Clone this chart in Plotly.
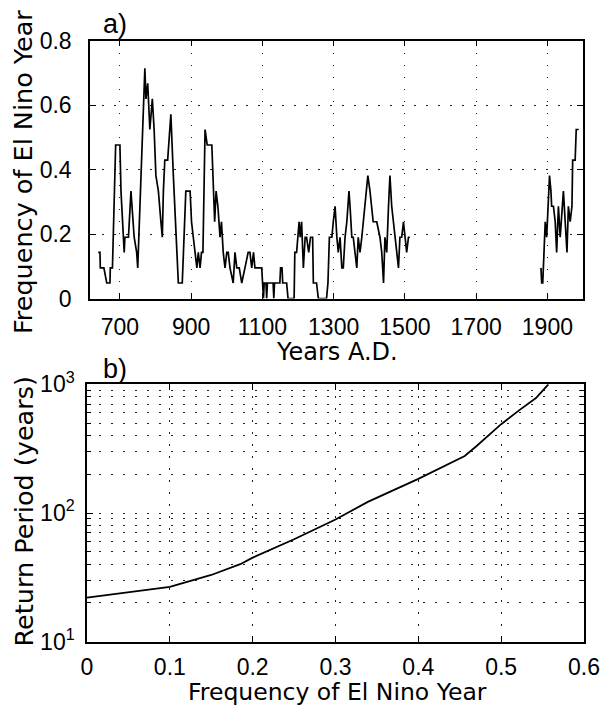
import plotly.graph_objects as go

# ---- Panel a) data: running frequency of El Nino years ----
years_a = [639, 644, 645, 651, 655, 663, 672, 673, 679, 688, 700, 703, 709, 712, 714, 724, 731, 736, 740, 747,
           750, 770, 773, 778, 782, 784, 791, 796, 801, 808, 815, 819, 822, 826, 834, 843, 850, 854, 859, 864,
           875, 881, 885, 897, 901, 906, 911, 916, 920, 925, 929, 933, 939, 945, 958, 962, 966, 970, 975, 981,
           985, 990, 995, 1000, 1004, 1009, 1018, 1023, 1028, 1035, 1042, 1051, 1060, 1065, 1070, 1075, 1079, 1098, 1101, 1103,
           1105, 1110, 1112, 1114, 1130, 1132, 1134, 1149, 1151, 1155, 1157, 1168, 1172, 1189, 1191, 1196, 1203, 1206, 1210, 1215,
           1220, 1224, 1230, 1235, 1241, 1243, 1252, 1257, 1280, 1284, 1288, 1295, 1299, 1304, 1309, 1313, 1318, 1323, 1327, 1332,
           1337, 1343, 1346, 1351, 1355, 1360, 1365, 1369, 1374, 1379, 1383, 1388, 1396, 1402, 1407, 1411, 1421, 1430, 1435, 1440,
           1444, 1449, 1454, 1458, 1463, 1468, 1472, 1477, 1482, 1486, 1491, 1496, 1500, 1505, 1510, 1514,
           None,
           1882, 1884, 1887, 1891, 1894, 1898, 1903, 1906, 1910, 1912, 1917, 1922, 1926, 1931, 1936, 1941, 1945, 1950, 1955, 1959,
           1964, 1969, 1971, 1978, 1981, 1985, 1988]
freq_a = [0.143, 0.143, 0.095, 0.095, 0.095, 0.048, 0.048, 0.095, 0.095, 0.476, 0.476, 0.333, 0.190, 0.143, 0.190, 0.190, 0.333, 0.238, 0.190, 0.143,
          0.095, 0.714, 0.619, 0.667, 0.571, 0.524, 0.619, 0.524, 0.381, 0.333, 0.238, 0.190, 0.333, 0.429, 0.429, 0.571, 0.381, 0.286, 0.143, 0.048,
          0.048, 0.190, 0.333, 0.333, 0.238, 0.190, 0.143, 0.095, 0.143, 0.095, 0.143, 0.143, 0.524, 0.476, 0.476, 0.381, 0.238, 0.333, 0.286, 0.190,
          0.238, 0.143, 0.095, 0.143, 0.143, 0.095, 0.048, 0.143, 0.095, 0.095, 0.048, 0.095, 0.143, 0.143, 0.095, 0.143, 0.095, 0.095, 0.048, 0.0,
          0.048, 0.048, 0.0, 0.048, 0.048, 0.0, 0.048, 0.048, 0.095, 0.095, 0.048, 0.048, 0.0, 0.0, 0.143, 0.143, 0.238, 0.190, 0.238, 0.095,
          0.190, 0.190, 0.143, 0.190, 0.190, 0.048, 0.048, 0.0, 0.0, 0.048, 0.190, 0.190, 0.238, 0.286, 0.190, 0.143, 0.190, 0.095, 0.095, 0.190,
          0.238, 0.333, 0.286, 0.190, 0.190, 0.143, 0.095, 0.190, 0.143, 0.190, 0.238, 0.286, 0.381, 0.333, 0.286, 0.238, 0.238, 0.190, 0.143, 0.048,
          0.190, 0.143, 0.286, 0.381, 0.286, 0.238, 0.190, 0.143, 0.095, 0.190, 0.190, 0.238, 0.190, 0.143, 0.190, 0.190,
          None,
          0.095, 0.048, 0.048, 0.143, 0.238, 0.190, 0.333, 0.381, 0.333, 0.286, 0.286, 0.238, 0.143, 0.286, 0.190, 0.286, 0.333, 0.238, 0.143, 0.286,
          0.238, 0.286, 0.429, 0.429, 0.524, 0.524, 0.524]

# ---- Panel b) data: return period vs frequency ----
freq_b = [0.0, 0.05, 0.1, 0.15, 0.185, 0.2, 0.25, 0.3, 0.339, 0.4, 0.456, 0.47, 0.484, 0.5, 0.522, 0.542, 0.557]
period_b = [22, 24.2, 26.7, 33, 40, 45, 62.5, 89, 122, 184, 277, 330, 400, 490, 630, 782, 1000]

xticks_a = [700, 900, 1100, 1300, 1500, 1700, 1900]
yticks_a = [0, 0.2, 0.4, 0.6, 0.8]
xticks_b = [0, 0.1, 0.2, 0.3, 0.4, 0.5, 0.6]
yticks_b = [10, 100, 1000]
yticks_b_text = ["10<sup>1</sup>", "10<sup>2</sup>", "10<sup>3</sup>"]
yminor_b = [20, 30, 40, 50, 60, 70, 80, 90, 200, 300, 400, 500, 600, 700, 800, 900]

W, H = 602, 708
TICKFONT = dict(family="Liberation Sans, Arial, sans-serif", size=23, color="black")
TITLEFONT = "DejaVu Sans, sans-serif"
GRID = dict(showgrid=True, gridcolor="#222", gridwidth=1.3, griddash="1.5px,10.5px")

fig = go.Figure()
fig.add_trace(go.Scatter(x=years_a, y=freq_a, mode="lines", line=dict(color="black", width=1.7),
                         connectgaps=False, xaxis="x", yaxis="y", showlegend=False))
fig.add_trace(go.Scatter(x=freq_b, y=period_b, mode="lines", line=dict(color="black", width=1.8),
                         xaxis="x2", yaxis="y2", showlegend=False))

axis_common = dict(showline=True, linecolor="black", linewidth=1.5, mirror="allticks",
                   ticks="inside", ticklen=6, tickcolor="black", tickwidth=1.2,
                   tickfont=TICKFONT, zeroline=False, automargin=False, **GRID)

def px(x):
    return x / W

def py(y):
    return 1 - y / H

fig.update_layout(
    template="none",
    width=W, height=H, margin=dict(l=0, r=0, t=0, b=0, pad=0, autoexpand=False),
    paper_bgcolor="white", plot_bgcolor="white",
    xaxis=dict(domain=[px(90), px(583)], range=[616, 2000], tickmode="array", tickvals=xticks_a,
               anchor="y", ticklabelstandoff=7, **axis_common),
    yaxis=dict(domain=[py(298.5), py(40.5)], range=[0, 0.8], tickmode="array", tickvals=yticks_a,
               anchor="x", ticklabelstandoff=12, **axis_common),
    xaxis2=dict(domain=[px(87), px(584)], range=[0, 0.6], tickmode="array", tickvals=xticks_b,
                anchor="y2", ticklabelstandoff=4, **axis_common),
    yaxis2=dict(domain=[py(641.7), py(384.3)], type="log", range=[1, 3], tickmode="array",
                tickvals=yticks_b, ticktext=yticks_b_text, anchor="x2", ticklabelstandoff=6,
                minor=dict(tickvals=yminor_b, ticks="inside", ticklen=4, tickcolor="black",
                           showgrid=True, gridcolor="#222", gridwidth=1.3, griddash="1.5px,10.5px"),
                **axis_common),
)

ann = [
    dict(text="a)", x=px(101), y=py(24), xanchor="left", yanchor="middle",
         font=dict(family="Liberation Sans, Arial, sans-serif", size=27, color="black")),
    dict(text="b)", x=px(101), y=py(369), xanchor="left", yanchor="middle",
         font=dict(family="Liberation Sans, Arial, sans-serif", size=27, color="black")),
    dict(text="Frequency of El Nino Year", x=px(23), y=py(172), xanchor="center", yanchor="middle",
         textangle=-90, font=dict(family=TITLEFONT, size=25.5, color="black")),
    dict(text="Years A.D.", x=px(336.5), y=py(352), xanchor="center", yanchor="middle",
         font=dict(family=TITLEFONT, size=24, color="black")),
    dict(text="Return Period (years)", x=px(23), y=py(511.5), xanchor="center", yanchor="middle",
         textangle=-90, font=dict(family=TITLEFONT, size=25.5, color="black")),
    dict(text="Frequency of El Nino Year", x=px(337.5), y=py(692), xanchor="center", yanchor="middle",
         font=dict(family=TITLEFONT, size=23.5, color="black")),
]
for a in ann:
    a.update(xref="paper", yref="paper", showarrow=False)
fig.update_layout(annotations=ann)

fig.write_html("out.html", config={"displayModeBar": False},
               post_script="document.body.style.margin='0';document.body.style.padding='0';"
                           "document.body.style.overflow='hidden';")
